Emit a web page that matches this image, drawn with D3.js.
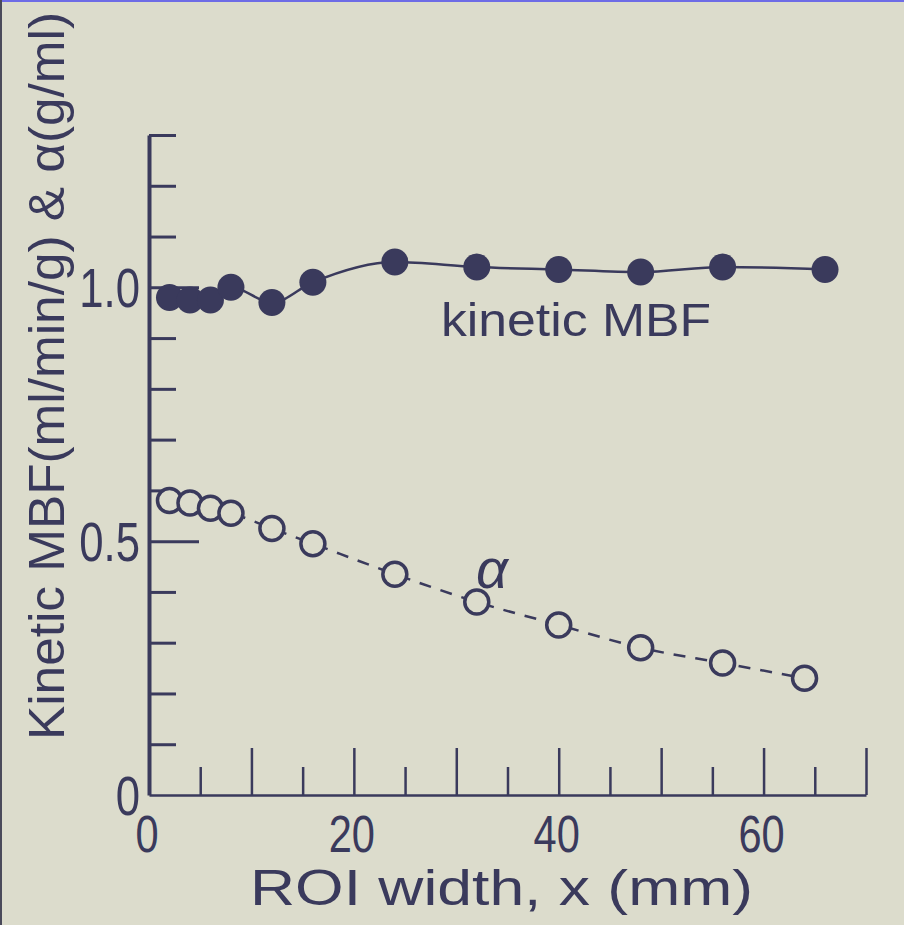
<!doctype html>
<html>
  <head>
    <meta charset="utf-8">
    <title>Kinetic MBF and alpha vs ROI width</title>
    <style>
      body { margin: 0; background: #dcdccc; }
      svg { display: block; }
      .axis path, .axis line { stroke: #3a3a5c; }
      text { font-family: "Liberation Sans", "DejaVu Sans", sans-serif; fill: #3a3a5c; }
    </style>
  </head>
  <body>
    <script src="https://cdn.jsdelivr.net/npm/d3@7"></script>
    <script>
    // values
    var roiMbf   = [2, 4, 6, 8, 12, 16, 24, 32, 40, 48, 56, 66];
    var mbf      = [0.98, 0.975, 0.975, 1.0, 0.97, 1.01, 1.05, 1.04, 1.035, 1.03, 1.04, 1.035];
    var roiAlpha = [2, 4, 6, 8, 12, 16, 24, 32, 40, 48, 56, 64];
    var alpha    = [0.58, 0.575, 0.565, 0.555, 0.525, 0.495, 0.435, 0.38, 0.335, 0.29, 0.26, 0.23];

    var xMinor = [5, 15, 25, 35, 45, 55, 65];
    var xMajor = [10, 20, 30, 40, 50, 60, 70];
    var xLabels = [0, 20, 40, 60];
    var yMinor = [0.1, 0.2, 0.3, 0.4, 0.6, 0.7, 0.8, 0.9, 1.1, 1.2, 1.3];
    var yMajor = [0.5, 1.0];
    var yLabels = [0, 0.5, 1.0];

    var width = 904, height = 925;
    var ink = "#3a3a5c", paper = "#dcdccc";

    var svg = d3.select("body").append("svg")
      .attr("width", width)
      .attr("height", height);

    svg.append("rect").attr("width", width).attr("height", height).attr("fill", paper);
    // scan frame edges
    svg.append("line").attr("x1", 0).attr("x2", width).attr("y1", 1).attr("y2", 1)
      .attr("stroke", "#6e6ce6").attr("stroke-width", 2);
    svg.append("line").attr("x1", 1).attr("x2", 1).attr("y1", 0).attr("y2", height)
      .attr("stroke", "#4a4a5a").attr("stroke-width", 2);

    var x = d3.scaleLinear().domain([0, 70]).range([149, 866]);
    var y = d3.scaleLinear().domain([0, 1.3]).range([795, 135]);

    // y axis
    var gy = svg.append("g").attr("class", "axis").attr("transform", "translate(149,0)");
    gy.call(d3.axisRight(y).tickValues(yMinor).tickSize(27).tickSizeOuter(0).tickFormat(""));
    gy.select(".domain").attr("stroke-width", 4);
    gy.selectAll(".tick line").attr("stroke-width", 3);
    var gy2 = svg.append("g").attr("class", "axis").attr("transform", "translate(149,0)");
    gy2.call(d3.axisRight(y).tickValues(yMajor).tickSize(50).tickFormat(""));
    gy2.select(".domain").remove();
    gy2.selectAll(".tick line").attr("stroke-width", 3);

    // x axis
    var gx = svg.append("g").attr("class", "axis").attr("transform", "translate(0,795)");
    gx.call(d3.axisTop(x).tickValues(xMinor).tickSize(28).tickSizeOuter(0).tickFormat(""));
    gx.select(".domain").attr("stroke-width", 2.5);
    gx.selectAll(".tick line").attr("stroke-width", 2.5);
    var gx2 = svg.append("g").attr("class", "axis").attr("transform", "translate(0,795)");
    gx2.call(d3.axisTop(x).tickValues(xMajor).tickSize(47).tickFormat(""));
    gx2.select(".domain").remove();
    gx2.selectAll(".tick line").attr("stroke-width", 2.5);

    // tick labels (narrowed, like the original typeface)
    svg.selectAll(".ylab").data(yLabels).enter().append("text")
      .attr("transform", function(d) { return "translate(140," + y(d) + ") scale(0.78,1)"; })
      .attr("dy", "0.36em")
      .attr("text-anchor", "end")
      .attr("font-size", 56)
      .text(function(d) { return d === 0 ? "0" : d.toFixed(1); });

    svg.selectAll(".xlab").data(xLabels).enter().append("text")
      .attr("transform", function(d) { return "translate(" + (x(d) - 2) + ",852) scale(0.8,1)"; })
      .attr("text-anchor", "middle")
      .attr("font-size", 52)
      .text(function(d) { return d; });

    // axis titles
    svg.append("text")
      .attr("transform", "translate(64,740) rotate(-90)")
      .attr("font-size", 50)
      .attr("textLength", 728)
      .attr("lengthAdjust", "spacingAndGlyphs")
      .text("Kinetic MBF(ml/min/g) & \u03b1(g/ml)");

    svg.append("text")
      .attr("x", 250)
      .attr("y", 905)
      .attr("font-size", 50)
      .attr("textLength", 503)
      .attr("lengthAdjust", "spacingAndGlyphs")
      .text("ROI  width, x  (mm)");

    // series
    var mbfPts = roiMbf.map(function(d, i) { return [d, mbf[i]]; });
    var alphaPts = roiAlpha.map(function(d, i) { return [d, alpha[i]]; });

    var line = d3.line()
      .x(function(d) { return x(d[0]); })
      .y(function(d) { return y(d[1]); })
      .curve(d3.curveMonotoneX);

    svg.append("path").datum(alphaPts)
      .attr("d", line)
      .attr("fill", "none")
      .attr("stroke", ink)
      .attr("stroke-width", 2.5)
      .attr("stroke-dasharray", "12,10");

    svg.selectAll(".alpha").data(alphaPts).enter().append("circle")
      .attr("cx", function(d) { return x(d[0]); })
      .attr("cy", function(d) { return y(d[1]); })
      .attr("r", 12)
      .attr("fill", paper)
      .attr("stroke", ink)
      .attr("stroke-width", 3.5);

    svg.append("path").datum(mbfPts)
      .attr("d", line)
      .attr("fill", "none")
      .attr("stroke", ink)
      .attr("stroke-width", 2.5);

    svg.selectAll(".mbf").data(mbfPts).enter().append("circle")
      .attr("cx", function(d) { return x(d[0]); })
      .attr("cy", function(d) { return y(d[1]); })
      .attr("r", 13.5)
      .attr("fill", ink);

    // series labels
    svg.append("text")
      .attr("x", 441)
      .attr("y", 336)
      .attr("font-size", 46)
      .attr("textLength", 270)
      .attr("lengthAdjust", "spacingAndGlyphs")
      .text("kinetic MBF");

    svg.append("text")
      .attr("x", 476)
      .attr("y", 588)
      .attr("font-size", 56)
      .attr("font-style", "italic")
      .attr("font-family", "DejaVu Sans, sans-serif")
      .text("\u03b1");
    </script>
  </body>
</html>
